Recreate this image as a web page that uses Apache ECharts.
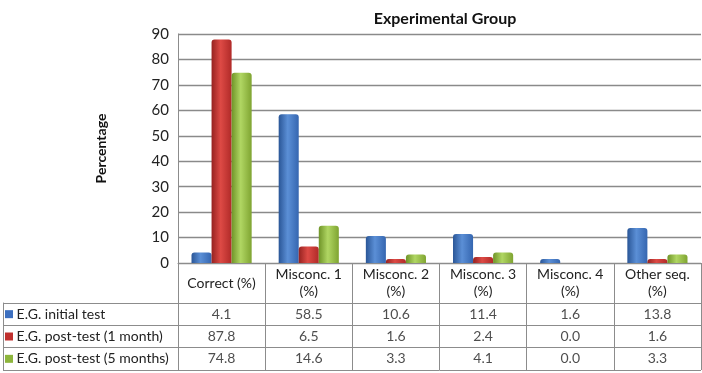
<!DOCTYPE html>
<html>
<head>
<meta charset="utf-8">
<script src="https://cdn.jsdelivr.net/npm/echarts@6/dist/echarts.min.js"></script>
<style>
  html, body { margin: 0; padding: 0; background: #fff; }
  #main { width: 702px; height: 373px; }
</style>
</head>
<body>
<div id="main"></div>
<script>
const categories = ['Correct (%)', 'Misconc. 1\n(%)', 'Misconc. 2\n(%)', 'Misconc. 3\n(%)', 'Misconc. 4\n(%)', 'Other seq.\n(%)'];
const seriesNames = ['E.G. initial test', 'E.G. post-test (1 month)', 'E.G. post-test (5 months)'];
const initialTest = [4.1, 58.5, 10.6, 11.4, 1.6, 13.8];
const postTest1 = [87.8, 6.5, 1.6, 2.4, 0.0, 1.6];
const postTest5 = [74.8, 14.6, 3.3, 4.1, 0.0, 3.3];
const yMin = 0, yMax = 90, yStep = 10;

const allValues = [initialTest, postTest1, postTest5];
const baseColors = ['#3c6fbf', '#c0302e', '#8db53c'];
const gradStops = [
  ['#2a5697', '#5b8fd6', '#3566b0'],
  ['#962220', '#dd4a45', '#b02a28'],
  ['#6f9428', '#b0d663', '#7fa431']
];
const font = 'Lato, "Open Sans", sans-serif';
const lineColor = '#8c8c8c';

window.onload = function () {
  const chart = echarts.init(document.getElementById('main'));

  const barSeries = allValues.map(function (vals, i) {
    return {
      name: seriesNames[i],
      type: 'bar',
      xAxisIndex: 0,
      yAxisIndex: 0,
      data: vals,
      barGap: '0%',
      barCategoryGap: '31%',
      itemStyle: {
        color: new echarts.graphic.LinearGradient(0, 0, 1, 0, [
          { offset: 0, color: gradStops[i][0] },
          { offset: 0.45, color: gradStops[i][1] },
          { offset: 1, color: gradStops[i][2] }
        ]),
        borderRadius: [3, 3, 0, 0]
      },
      silent: true
    };
  });

  const tableData = [];
  allValues.forEach(function (vals, r) {
    vals.forEach(function (v, c) {
      tableData.push([c, r, v]);
    });
  });

  const option = {
    animation: false,
    backgroundColor: '#fff',
    title: {
      text: 'Experimental Group',
      left: 440,
      textAlign: 'center',
      top: 6,
      textStyle: { fontFamily: font, fontSize: 16, fontWeight: 'bold', color: '#111' }
    },
    grid: [
      { left: 178, right: 1, top: 34, height: 229 },
      { left: 178, right: 1, top: 303, height: 67 }
    ],
    xAxis: [
      {
        type: 'category',
        gridIndex: 0,
        data: categories,
        axisLine: { show: true, lineStyle: { color: lineColor } },
        axisTick: { show: true, length: 40, lineStyle: { color: lineColor } },
        axisLabel: {
          margin: 20,
          verticalAlign: 'middle',
          fontFamily: font,
          fontSize: 14,
          lineHeight: 17,
          color: '#222',
          interval: 0
        }
      },
      {
        type: 'category',
        gridIndex: 1,
        data: categories,
        axisLine: { show: false },
        axisTick: { show: false },
        axisLabel: { show: false },
        splitLine: { show: true, lineStyle: { color: lineColor } }
      }
    ],
    yAxis: [
      {
        type: 'value',
        gridIndex: 0,
        min: yMin,
        max: yMax,
        interval: yStep,
        name: 'Percentage',
        nameLocation: 'middle',
        nameGap: 70,
        nameRotate: 90,
        nameTextStyle: { fontFamily: font, fontSize: 14, fontWeight: 'bold', color: '#111' },
        axisLine: { show: true, lineStyle: { color: lineColor } },
        axisTick: { show: false },
        axisLabel: { margin: 9, fontFamily: font, fontSize: 15, color: '#222' },
        splitLine: { show: true, lineStyle: { color: '#8a8a8a', width: 1.3 } }
      },
      {
        type: 'category',
        gridIndex: 1,
        inverse: true,
        data: seriesNames,
        axisLine: { show: true, lineStyle: { color: lineColor } },
        axisTick: { show: true, length: 175, lineStyle: { color: lineColor } },
        splitLine: { show: true, lineStyle: { color: lineColor } },
        axisLabel: {
          align: 'left',
          margin: 173,
          fontFamily: font,
          fontSize: 14,
          color: '#222',
          formatter: function (v, idx) {
            return '{m' + idx + '|}' + ' ' + v;
          },
          rich: {
            m0: { backgroundColor: baseColors[0], width: 8, height: 8 },
            m1: { backgroundColor: baseColors[1], width: 8, height: 8 },
            m2: { backgroundColor: baseColors[2], width: 8, height: 8 }
          }
        }
      },
      {
        type: 'value',
        gridIndex: 1,
        position: 'left',
        offset: 175,
        axisLine: { show: true, lineStyle: { color: lineColor } },
        axisTick: { show: false },
        axisLabel: { show: false },
        splitLine: { show: false }
      }
    ],
    series: barSeries.concat([
      {
        type: 'scatter',
        xAxisIndex: 1,
        yAxisIndex: 1,
        data: tableData,
        symbolSize: 0,
        silent: true,
        label: {
          show: true,
          position: 'inside',
          fontFamily: font,
          fontSize: 14,
          color: '#222',
          formatter: function (p) { return p.value[2].toFixed(1); }
        }
      }
    ])
  };

  chart.setOption(option);
};
</script>
</body>
</html>
